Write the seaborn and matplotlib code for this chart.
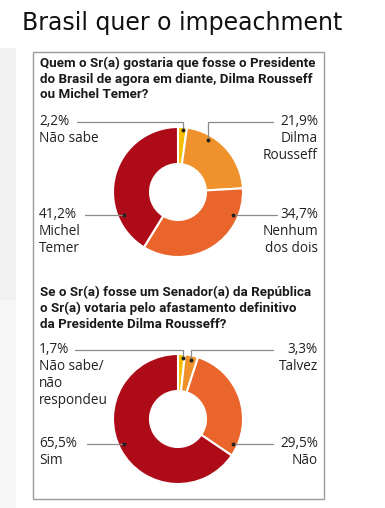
import matplotlib
matplotlib.use("Agg")
import matplotlib.pyplot as plt
import seaborn as sns
from matplotlib.patches import Rectangle

sns.set_theme(style="white")
plt.rcParams['font.family'] = ['Open Sans', 'DejaVu Sans']

# data
q1_labels = ["Não sabe", "Dilma\nRousseff", "Nenhum\ndos dois", "Michel\nTemer"]
q1_values = [2.2, 21.9, 34.7, 41.2]
q2_labels = ["Não sabe/\nnão\nrespondeu", "Talvez", "Não", "Sim"]
q2_values = [1.7, 3.3, 29.5, 65.5]
title = "Brasil quer o impeachment"
q1_text = "Quem o Sr(a) gostaria que fosse o Presidente\ndo Brasil de agora em diante, Dilma Rousseff\nou Michel Temer?"
q2_text = "Se o Sr(a) fosse um Senador(a) da República\no Sr(a) votaria pelo afastamento definitivo\nda Presidente Dilma Rousseff?"

colors = sns.color_palette(["#F6BE00", "#F0922B", "#E9652B", "#AD0B17"])

W, H = 385, 508
fig = plt.figure(figsize=(W / 100, H / 100), dpi=100)
ax = fig.add_axes([0, 0, 1, 1])

def Y(y):
    return H - y

# faint strip on the left
ax.add_patch(Rectangle((0, Y(508)), 16, 460, color="#f7f7f7", lw=0, zorder=0))
ax.add_patch(Rectangle((0, Y(300)), 16, 252, color="#f1f1f1", lw=0, zorder=0))

ax.text(22, Y(23), title, fontsize=17, family="DejaVu Sans", va="center", ha="left", color="#111")
ax.add_patch(Rectangle((33, Y(499)), 291, 447, fill=False, ec="#9a9a9a", lw=1.0))

def fmt(v):
    return f"{v:.1f}%".replace(".", ",")

def donut(cx, cy, values, labels, qtext, qy, spots):
    ax.text(40, Y(qy), qtext, fontsize=9.6, fontweight="bold", family="Roboto",
            va="top", ha="left", linespacing=1.25, color="#1a1a1a")
    ax.pie(values, colors=colors, startangle=90, counterclock=False, radius=65,
           center=(cx, Y(cy)), wedgeprops=dict(width=37, edgecolor="white", linewidth=1.5))
    for v, lab, (tx, ty, side, pts) in zip(values, labels, spots):
        ha = "left" if side == "L" else "right"
        ax.text(tx, Y(ty), fmt(v) + "\n" + lab, fontsize=9.8, ha=ha, va="top",
                linespacing=1.18, color="#222")
        xs = [p[0] for p in pts]
        ys = [Y(p[1]) for p in pts]
        ax.plot(xs, ys, color="#8c8c8c", lw=0.9)
        ax.plot(xs[-1], ys[-1], "o", color="#222", ms=1.8)

donut(178, 192, q1_values, q1_labels, q1_text, 57, [
    (39, 114, "L", [(77, 122), (183, 122), (183, 130)]),
    (318, 114, "R", [(273, 122), (208, 122), (208, 140)]),
    (318, 207, "R", [(277, 215), (233, 215)]),
    (39, 207, "L", [(85, 215), (124, 215)]),
])
donut(178, 419, q2_values, q2_labels, q2_text, 286, [
    (39, 342, "L", [(75, 350), (183, 350), (183, 358)]),
    (318, 342, "R", [(273, 350), (191, 350), (191, 360)]),
    (318, 436, "R", [(273, 444), (233, 444)]),
    (39, 436, "L", [(87, 444), (124, 444)]),
])

ax.set_xlim(0, W)
ax.set_ylim(0, H)
ax.set_aspect("equal")
ax.axis("off")
fig.savefig("out.png", dpi=100)
